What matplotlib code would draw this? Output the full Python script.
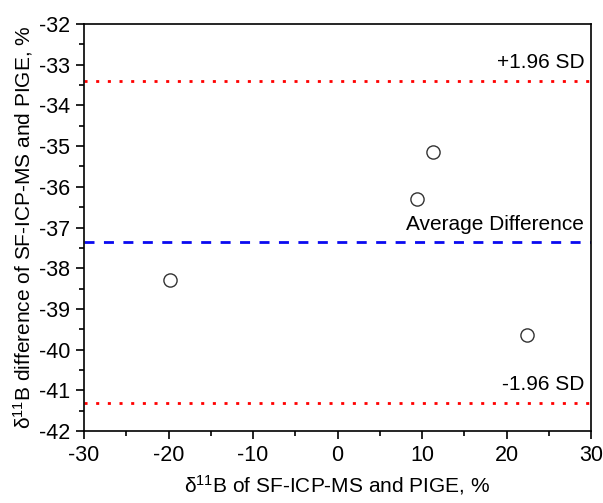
import matplotlib
matplotlib.use("Agg")
import matplotlib.pyplot as plt
from matplotlib.ticker import MultipleLocator

plt.rcParams['font.family'] = ['Liberation Sans', 'DejaVu Sans']
plt.rcParams['mathtext.fontset'] = 'custom'
plt.rcParams['mathtext.rm'] = 'Liberation Sans'
plt.rcParams['mathtext.it'] = 'Liberation Sans:italic'
plt.rcParams['axes.unicode_minus'] = False

x_mean = [-19.8, 9.4, 11.3, 22.4]
y_diff = [-38.29, -36.30, -35.14, -39.64]
upper_sd = -33.39
avg_diff = -37.35
lower_sd = -41.30

fig = plt.figure(figsize=(6.03, 5.03), dpi=100)
ax = fig.add_axes([84/603, 1-431/503, (591-84)/603, (431-24)/503])

ax.axhline(upper_sd, color='red', linestyle=(0, (1.1, 3.1)), linewidth=2)
ax.axhline(lower_sd, color='red', linestyle=(0, (1.1, 3.1)), linewidth=2)
ax.axhline(avg_diff, color='#0a0af0', linestyle=(0, (3.6, 3.4)), linewidth=2)
ax.plot(x_mean, y_diff, 'o', markersize=9.5, markerfacecolor='white',
        markeredgecolor='#333333', markeredgewidth=1.0, linestyle='none')

ax.text(29.2, upper_sd + 0.2, '+1.96 SD', ha='right', va='bottom', fontsize=15)
ax.text(29.2, avg_diff + 0.2, 'Average Difference', ha='right', va='bottom', fontsize=15)
ax.text(29.2, lower_sd + 0.2, '-1.96 SD', ha='right', va='bottom', fontsize=15)

ax.set_xlim(-30, 30)
ax.set_ylim(-42, -32)
ax.xaxis.set_major_locator(MultipleLocator(10))
ax.xaxis.set_minor_locator(MultipleLocator(5))
ax.yaxis.set_major_locator(MultipleLocator(1))
ax.yaxis.set_minor_locator(MultipleLocator(0.5))
ax.tick_params(which='major', direction='out', length=6, width=1.2, labelsize=15.5, pad=4)
ax.tick_params(which='minor', direction='out', length=3.5, width=1.2)
for s in ax.spines.values():
    s.set_linewidth(1.2)

ax.set_xlabel(r'$\mathrm{\delta}^{11}$B of SF-ICP-MS and PIGE, %', fontsize=15, labelpad=5)
ax.set_ylabel(r'$\mathrm{\delta}^{11}$B difference of SF-ICP-MS and PIGE, %', fontsize=15, labelpad=3)

fig.savefig('out.png', dpi=100)
